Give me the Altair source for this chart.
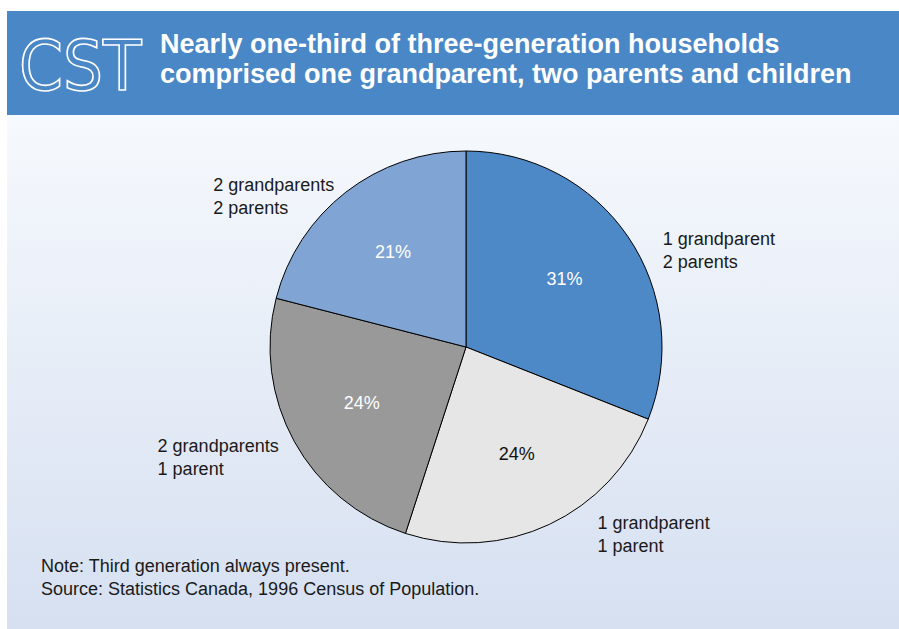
import altair as alt
import pandas as pd

# ---- data ----
labels = ["1 grandparent\n2 parents", "1 grandparent\n1 parent",
          "2 grandparents\n1 parent", "2 grandparents\n2 parents"]
values = [31, 24, 24, 21]
pct_text = ["31%", "24%", "24%", "21%"]
colors = ["#4d88c7", "#e6e6e6", "#999999", "#80a5d5"]

title_lines = ["Nearly one-third of three-generation households",
               "comprised one grandparent, two parents and children"]
note_lines = ["Note: Third generation always present.",
              "Source: Statistics Canada, 1996 Census of Population."]

df = pd.DataFrame({"label": labels, "value": values, "pct": pct_text,
                   "idx": list(range(len(labels)))})

W, H = 899, 629
CX, CY, R = 466, 347, 196
COND = "DejaVu Sans Condensed, Liberation Sans"
BODY = "Liberation Sans, Arial, Helvetica, sans-serif"

one = alt.Data(values=[{"a": 1}])

panel = alt.Chart(one).mark_rect(
    fill=alt.LinearGradient(
        gradient="linear",
        stops=[alt.GradientStop(offset=0, color="#f6f9fd"),
               alt.GradientStop(offset=1, color="#d6e0f1")],
        x1=0, x2=0, y1=0, y2=1)
).encode(x=alt.value(7), x2=alt.value(W), y=alt.value(115), y2=alt.value(H))

header = alt.Chart(one).mark_rect(fill="#4a87c6").encode(
    x=alt.value(7), x2=alt.value(W), y=alt.value(11), y2=alt.value(115))

logo = alt.Chart(one).mark_text(
    text="CST", font=COND, fontSize=70, align="left", baseline="alphabetic",
    fill="#4a87c6", fillOpacity=0, stroke="white", strokeWidth=1.6
).encode(x=alt.value(19), y=alt.value(90))

title = alt.Chart(one).mark_text(
    text=title_lines, font=BODY, fontSize=27, fontWeight="bold", color="white",
    align="left", baseline="alphabetic", lineHeight=30
).encode(x=alt.value(160), y=alt.value(53))

base = alt.Chart(df)

pie = base.mark_arc(radius=R, stroke="black", strokeWidth=1).encode(
    theta=alt.Theta("value:Q", stack=True),
    order=alt.Order("idx:Q", sort="ascending"),
    color=alt.Color("label:N", scale=alt.Scale(domain=labels, range=colors), legend=None),
    x=alt.value(CX), y=alt.value(CY),
)

pct = base.mark_text(radius=119, font=BODY, fontSize=18, align="center",
                     baseline="middle").encode(
    theta=alt.Theta("value:Q", stack=True),
    order=alt.Order("idx:Q", sort="ascending"),
    text="pct:N",
    color=alt.condition(alt.datum.idx == 1, alt.value("#111111"), alt.value("white")),
    x=alt.value(CX), y=alt.value(CY),
)

# outer label offsets (style): dx, dy relative to point at radius 215 on mid-angle
offsets = {0: (19, 19), 1: (40, -13), 2: (-120, 1), 3: (-121, 14)}
outer_layers = []
for i, (ddx, ddy) in offsets.items():
    outer_layers.append(
        base.transform_window(cum="sum(value)", sort=[alt.SortField("idx")])
        .transform_calculate(mid="datum.cum - datum.value / 2")
        .transform_filter(alt.datum.idx == i)
        .mark_text(radius=215, font=BODY, fontSize=18, align="left",
                   baseline="alphabetic", lineBreak="\n", lineHeight=23,
                   color="#1a1a1a", dx=ddx, dy=ddy)
        .encode(theta=alt.Theta("mid:Q", stack=None), text="label:N",
                x=alt.value(CX), y=alt.value(CY))
    )

note = alt.Chart(one).mark_text(
    text=note_lines, font=BODY, fontSize=18, color="#1a1a1a",
    align="left", baseline="alphabetic", lineHeight=23
).encode(x=alt.value(41), y=alt.value(572))

chart = alt.layer(panel, header, logo, title, pie, pct, *outer_layers, note).properties(
    width=W, height=H, autosize="none", padding=0, background="white"
).configure_view(stroke=None)

chart.save("out.html", embed_options={"renderer": "svg", "actions": False})
